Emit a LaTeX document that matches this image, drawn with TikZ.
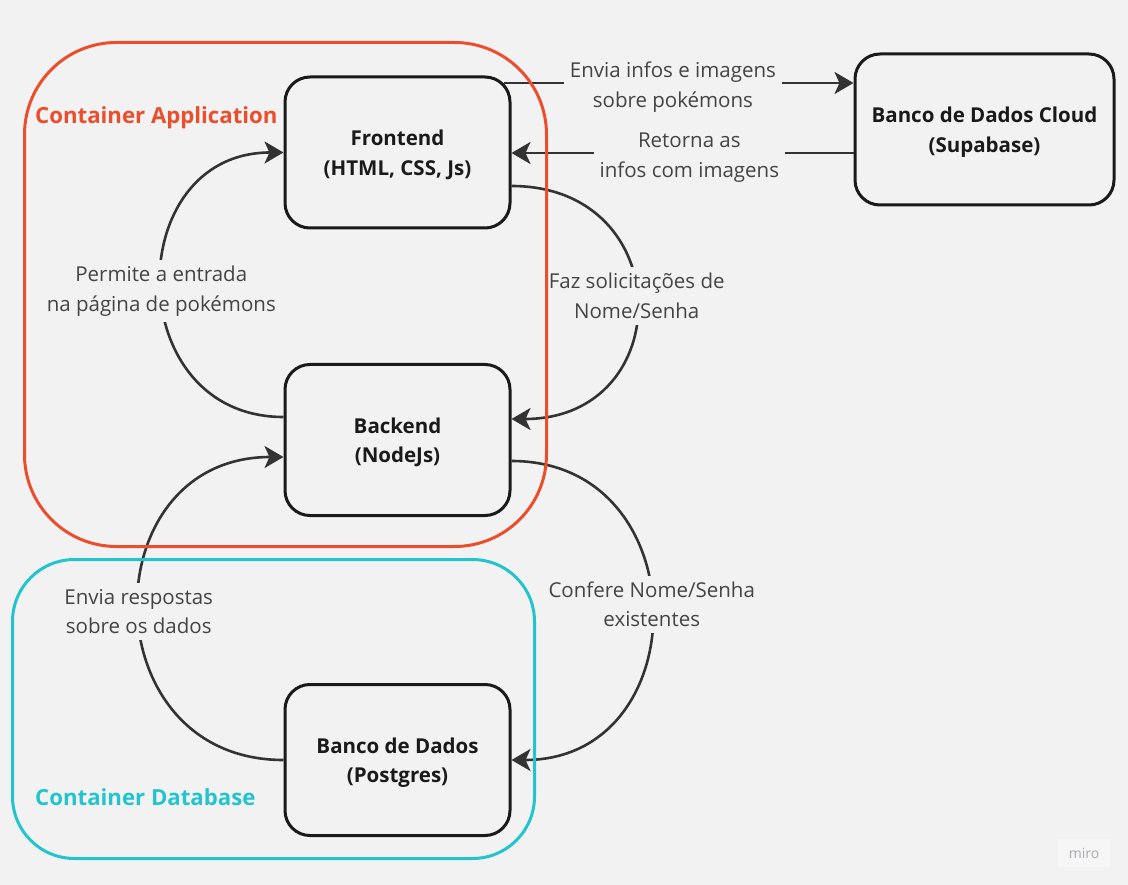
\documentclass[tikz,border=0pt]{standalone}
\usepackage{fontspec}
\setmainfont{Open Sans}
\usetikzlibrary{arrows.meta,calc}
\definecolor{bg}{HTML}{F2F2F2}
\definecolor{appred}{HTML}{EA4E2D}
\definecolor{dbcyan}{HTML}{23C4CE}
\definecolor{boxline}{HTML}{1A1A1A}
\definecolor{conn}{HTML}{333333}
\definecolor{lblc}{HTML}{444444}
\definecolor{mirobg}{HTML}{F6F6F6}
\definecolor{mirotxt}{HTML}{ABABB0}
\begin{document}
\begin{tikzpicture}[x=1pt,y=-1pt,
  box/.style={draw=boxline, line width=3pt, rounded corners=25pt, minimum width=225pt, minimum height=151pt, align=center, text=boxline, font=\fontsize{20.5}{29.5}\selectfont\bfseries},
  boxtxt/.style={align=center, text=boxline, font=\fontsize{20.5}{29.5}\selectfont\bfseries, yshift=-2.5pt},
  cont/.style={line width=3pt, rounded corners=#1},
  contlbl/.style={anchor=west, font=\fontsize{22.2}{26}\selectfont\bfseries, inner sep=0pt},
  lbl/.style={fill=bg, text=lblc, font=\fontsize{20.5}{29.5}\selectfont, align=center, inner sep=6pt},
  conn/.style={draw=conn, line width=2.6pt, -{Stealth[length=19pt,width=22pt,inset=5pt]}},
]
\fill[bg] (0,0) rectangle (1128,885);
\useasboundingbox (0,0) rectangle (1128,885);

% boxes
\node[box] (fe) at (397.5,152.5) {};
\node[box] (be) at (397.5,440) {};
\node[box] (db) at (397.5,760) {};
\node[box, minimum width=259pt] (cl) at (984.5,129.5) {};
\node[boxtxt] (fet) at (fe) {Frontend\\(HTML, CSS, Js)};
\node[boxtxt] (bet) at (be) {Backend\\(NodeJs)};
\node[boxtxt] (dbt) at (db) {Banco de Dados\\(Postgres)};
\node[boxtxt] (clt) at (cl) {Banco de Dados Cloud\\(Supabase)};

% straight connectors
\draw[conn] ([xshift=-8pt,yshift=69.5pt]fe.east) -- node[lbl, pos=0.484, yshift=-4pt] {Envia infos e imagens\\sobre pokémons} ([yshift=46.5pt]cl.west);
\draw[conn] ([yshift=-23.5pt]cl.west) -- node[lbl, pos=0.48, yshift=-4.5pt] {Retorna as\\infos com imagens} ([yshift=-23.5pt]cl.west -| fe.east);

% curved connectors
\draw[conn] ([yshift=-33.5pt]fe.east) .. controls +(167,0) and +(167,0) .. node[lbl, yshift=6.5pt] {Faz solicitações de\\Nome/Senha} ([yshift=21pt]be.east);
\draw[conn] ([yshift=23pt]be.west) .. controls +(-163,0) and +(-163,0) .. node[lbl, yshift=-6.5pt] {Permite a entrada\\na página de pokémons} (fe.west);
\draw[conn] ([yshift=-21pt]be.east) .. controls +(187,0) and +(187,0) .. node[lbl, yshift=6pt] {Confere Nome/Senha\\existentes} (db.east);
\draw[conn] (db.west) .. controls +(-193,0) and +(-193,0) .. node[lbl, yshift=-3pt] {Envia respostas\\sobre os dados} ([yshift=-17pt]be.west);

% containers (drawn on top of connectors)
\node[draw=appred, cont=92pt, minimum width=522pt, minimum height=504pt] (capp) at (285.5,294.5) {};
\node[draw=dbcyan, cont=62pt, minimum width=522pt, minimum height=299pt] (cdb) at (273.5,709) {};
\node[contlbl, text=appred] (capplbl) at (35,118) {Container Application};
\node[contlbl, text=dbcyan] (cdblbl) at (35,797) {Container Database};

% watermark
\node[fill=mirobg, text=mirotxt, font=\fontsize{14}{14}\selectfont, minimum width=52pt, minimum height=28pt, inner sep=0pt] (miro) at (1084,853) {miro};
\end{tikzpicture}
\end{document}
